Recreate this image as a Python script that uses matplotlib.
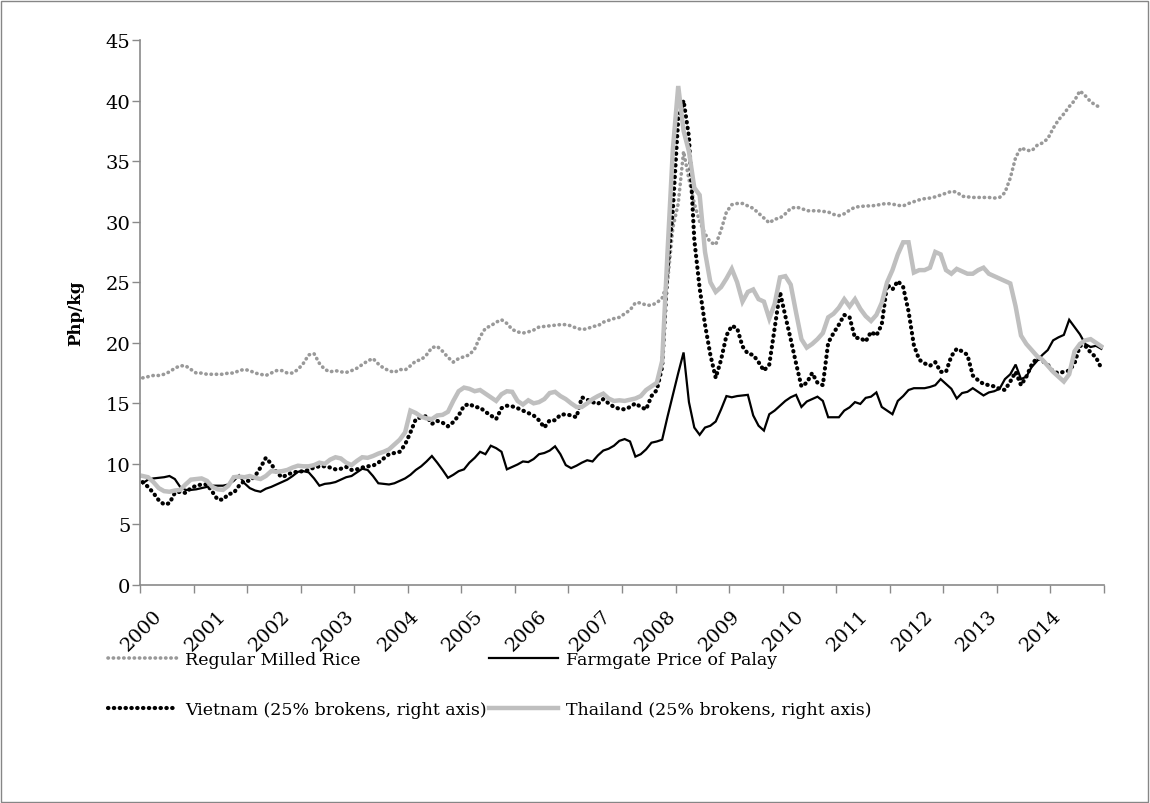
import numpy as np
import matplotlib
matplotlib.use("Agg")
import matplotlib.pyplot as plt
from matplotlib.patches import Rectangle
from matplotlib.transforms import ScaledTranslation

plt.rcParams['font.family'] = ['DejaVu Serif']

years = [str(y) for y in range(2000, 2015)]

# monthly prices, Php/kg, Jan 2000 - Dec 2014 (one row per year)
regular_milled = [
    17.1, 17.2, 17.3, 17.3, 17.4, 17.6, 17.9, 18.1, 18.1, 17.8, 17.5, 17.5,
    17.4, 17.4, 17.4, 17.4, 17.5, 17.5, 17.7, 17.8, 17.7, 17.5, 17.4, 17.3,
    17.5, 17.7, 17.7, 17.5, 17.5, 17.8, 18.3, 19.0, 19.1, 18.3, 17.8, 17.6,
    17.7, 17.6, 17.55, 17.7, 17.9, 18.2, 18.5, 18.7, 18.25, 17.9, 17.7, 17.55,
    17.8, 17.75, 18.1, 18.5, 18.6, 19.0, 19.6, 19.7, 19.3, 18.8, 18.4, 18.7,
    18.85, 19.0, 19.5, 20.5, 21.2, 21.4, 21.7, 21.9, 21.6, 21.1, 20.9, 20.8,
    20.9, 21.05, 21.3, 21.35, 21.4, 21.45, 21.5, 21.5, 21.4, 21.2, 21.1, 21.15,
    21.35, 21.4, 21.7, 21.85, 22.0, 22.1, 22.4, 22.7, 23.3, 23.3, 23.1, 23.1,
    23.3, 23.7, 25.0, 29.5, 31.5, 35.8, 33.5, 31.5, 30.0, 29.0, 28.3, 28.1,
    29.3, 30.8, 31.4, 31.5, 31.5, 31.3, 31.1, 30.7, 30.3, 29.9, 30.2, 30.3,
    30.65, 31.1, 31.2, 31.1, 30.9, 30.9, 30.9, 30.85, 30.8, 30.6, 30.5, 30.65,
    30.95, 31.2, 31.25, 31.3, 31.3, 31.35, 31.45, 31.5, 31.45, 31.35, 31.3, 31.5,
    31.65, 31.8, 31.9, 31.95, 32.05, 32.2, 32.35, 32.5, 32.45, 32.1, 32.05, 32.0,
    32.0, 32.0, 32.0, 31.95, 32.0, 32.4, 33.6, 35.3, 36.1, 35.9, 35.85, 36.3,
    36.5, 36.85, 37.7, 38.4, 38.9, 39.5, 40.0, 40.8, 40.4, 39.9, 39.6, 39.4,
]

farmgate = [
    8.4, 8.7, 8.8, 8.85, 8.9, 9.0, 8.75, 8.1, 7.85, 7.85, 7.9, 8.0,
    8.1, 8.2, 8.2, 8.2, 8.3, 8.6, 9.05, 8.4, 8.0, 7.8, 7.7, 7.95,
    8.1, 8.3, 8.5, 8.7, 9.0, 9.35, 9.4, 9.3, 8.8, 8.2, 8.35, 8.4,
    8.5, 8.7, 8.9, 9.0, 9.3, 9.6, 9.5, 9.0, 8.4, 8.35, 8.3, 8.4,
    8.6, 8.8, 9.1, 9.5, 9.8, 10.2, 10.65, 10.1, 9.5, 8.85, 9.1, 9.4,
    9.55, 10.1, 10.5, 11.0, 10.8, 11.5, 11.3, 11.0, 9.55, 9.75, 9.95, 10.2,
    10.15, 10.4, 10.8, 10.9, 11.1, 11.45, 10.8, 9.9, 9.65, 9.85, 10.1, 10.3,
    10.2, 10.7, 11.1, 11.25, 11.5, 11.9, 12.05, 11.85, 10.6, 10.8, 11.2, 11.75,
    11.85, 12.0, 13.9, 15.7, 17.5, 19.2, 15.1, 13.0, 12.4, 13.0, 13.15, 13.5,
    14.5, 15.6, 15.5, 15.6, 15.65, 15.7, 14.0, 13.15, 12.75, 14.1, 14.4, 14.8,
    15.2, 15.5, 15.7, 14.7, 15.15, 15.35, 15.55, 15.2, 13.85, 13.85, 13.85, 14.4,
    14.67, 15.1, 14.95, 15.45, 15.55, 15.9, 14.7, 14.4, 14.1, 15.2, 15.6, 16.1,
    16.25, 16.25, 16.25, 16.35, 16.5, 17.0, 16.6, 16.2, 15.4, 15.85, 15.95, 16.25,
    15.95, 15.65, 15.9, 16.0, 16.2, 17.0, 17.4, 18.2, 17.0, 17.2, 18.0, 18.5,
    19.0, 19.4, 20.2, 20.45, 20.65, 21.9, 21.3, 20.7, 19.9, 19.65, 19.75, 19.5,
]

vietnam = [
    8.5, 8.1, 7.6, 7.0, 6.65, 6.75, 7.6, 7.7, 7.6, 8.0, 8.2, 8.3,
    8.3, 7.7, 7.05, 7.05, 7.5, 7.6, 8.2, 8.6, 8.6, 9.0, 9.7, 10.5,
    10.0, 9.3, 8.9, 9.1, 9.3, 9.35, 9.4, 9.5, 9.7, 9.8, 9.8, 9.7,
    9.55, 9.6, 9.75, 9.5, 9.55, 9.7, 9.8, 9.85, 10.1, 10.45, 10.8, 10.9,
    11.0, 11.6, 12.6, 13.7, 13.85, 13.95, 13.3, 13.55, 13.4, 13.1, 13.45, 14.0,
    14.8, 14.95, 14.7, 14.65, 14.3, 14.0, 13.7, 14.6, 14.8, 14.75, 14.6, 14.4,
    14.2, 14.0, 13.6, 13.0, 13.6, 13.6, 14.05, 14.1, 14.0, 13.85, 15.5, 15.3,
    15.1, 14.95, 15.35, 15.0, 14.7, 14.55, 14.5, 14.7, 15.0, 14.7, 14.5, 15.6,
    16.1, 18.0, 26.0, 31.0, 38.5, 40.0, 37.0, 28.5, 24.5, 21.5, 19.0, 17.1,
    18.6, 20.6, 21.4, 21.2, 19.7, 19.1, 19.0, 18.4, 17.7, 18.2, 21.2, 24.2,
    22.2, 20.3, 18.3, 16.4, 16.7, 17.5, 16.7, 16.5, 20.0, 20.8, 21.5, 22.3,
    22.1, 20.4, 20.4, 20.1, 20.9, 20.6, 21.5, 24.8, 24.4, 25.1, 24.6, 22.6,
    19.8, 18.6, 18.3, 18.1, 18.4, 17.6, 17.6, 18.9, 19.5, 19.3, 19.0, 17.3,
    16.9, 16.6, 16.5, 16.4, 16.2, 16.1, 16.8, 17.6, 16.5, 17.2, 18.2, 18.75,
    18.5, 18.2, 17.6, 17.5, 17.6, 17.7, 18.3, 19.75, 19.75, 19.2, 18.8, 17.9,
]

thailand = [
    9.0, 8.9, 8.5, 8.0, 7.75, 7.7, 7.8, 7.85, 8.3, 8.7, 8.75, 8.8,
    8.6, 8.1, 7.9, 7.85, 8.2, 8.9, 8.95, 8.9, 9.0, 8.85, 8.75, 9.0,
    9.4, 9.35, 9.4, 9.5, 9.7, 9.85, 9.8, 9.8, 9.9, 10.1, 10.0, 10.35,
    10.55, 10.45, 10.1, 9.9, 10.25, 10.55, 10.5, 10.65, 10.85, 11.0, 11.2, 11.6,
    12.0, 12.6, 14.4, 14.2, 13.9, 13.75, 13.7, 14.0, 14.05, 14.3, 15.2, 16.0,
    16.3, 16.2, 16.0, 16.1, 15.8, 15.5, 15.2, 15.75, 16.0, 15.95, 15.2, 14.9,
    15.25, 15.0, 15.1, 15.35, 15.85, 15.95, 15.6, 15.35, 15.0, 14.7, 14.7, 15.0,
    15.35, 15.6, 15.8, 15.4, 15.2, 15.25, 15.2, 15.3, 15.4, 15.6, 16.1, 16.4,
    16.7, 18.5, 27.5, 36.0, 41.2, 37.5, 35.8, 32.8, 32.2, 27.5, 25.0, 24.2,
    24.6, 25.3, 26.1, 25.0, 23.4, 24.2, 24.4, 23.6, 23.4, 22.0, 23.2, 25.4,
    25.5, 24.8, 22.5, 20.3, 19.6, 19.9, 20.3, 20.8, 22.1, 22.4, 22.9, 23.6,
    23.0, 23.6, 22.8, 22.2, 21.8, 22.3, 23.3, 25.0, 26.0, 27.3, 28.3, 28.3,
    25.8, 26.0, 26.0, 26.2, 27.5, 27.3, 26.0, 25.7, 26.1, 25.9, 25.7, 25.7,
    26.0, 26.2, 25.7, 25.5, 25.3, 25.1, 24.9, 23.0, 20.6, 19.9, 19.4, 18.9,
    18.6, 18.1, 17.6, 17.2, 16.8, 17.4, 19.3, 19.9, 20.2, 20.3, 20.0, 19.7,
]

labels = ['Regular Milled Rice', 'Farmgate Price of Palay',
          'Vietnam (25% brokens, right axis)', 'Thailand (25% brokens, right axis)']

W, H = 1150, 804
fig = plt.figure(figsize=(W / 100, H / 100), dpi=100)
ax = fig.add_axes([140 / W, 1 - 586 / H, 964 / W, 545 / H])

x = np.arange(len(regular_milled)) + 0.5
axis_grey = '#8a8a8a'
fs = 12.5
tick_fs = 14

l_rmr, = ax.plot(x, regular_milled, color='#999999', lw=2.6,
                 linestyle=(0, (0.1, 1.35)), dash_capstyle='round')
l_farm, = ax.plot(x, farmgate, color='black', lw=1.6, solid_joinstyle='miter')
l_vn, = ax.plot(x, vietnam, color='black', lw=3.0,
                linestyle=(0, (0.1, 1.3)), dash_capstyle='round')
l_th, = ax.plot(x, thailand, color='#bfbfbf', lw=3.2, solid_joinstyle='miter')

ax.set_xlim(0, 180)
ax.set_ylim(0, 45)
ax.set_yticks(np.arange(0, 46, 5))

# tick marks every 10 months, year labels drawn by hand at each January
ax.set_xticks(np.arange(0, 181, 10))
ax.set_xticklabels([])
ax.tick_params(axis='x', length=6, width=1, color=axis_grey)
ax.tick_params(axis='y', length=6, width=1, color=axis_grey, pad=1, labelsize=tick_fs)

lab_trans = ax.get_xaxis_transform() + ScaledTranslation(0.16, -0.27, fig.dpi_scale_trans)
for i, yr in enumerate(years):
    ax.text(i * 12 + 0.5, 0, yr, transform=lab_trans, rotation=45, fontsize=tick_fs,
            ha='right', va='center', rotation_mode='anchor')

for side in ['top', 'right']:
    ax.spines[side].set_visible(False)
for side in ['left', 'bottom']:
    ax.spines[side].set_color(axis_grey)
    ax.spines[side].set_linewidth(1.2)

ax.set_ylabel('Php/kg', fontsize=12, fontweight='bold')
ax.yaxis.set_label_coords(-0.058, 0.5)

fig.legend([l_rmr, l_vn, l_farm, l_th],
           [labels[0], labels[2], labels[1], labels[3]],
           ncol=2, loc='upper left', bbox_to_anchor=(108 / W, 1 - 652 / H),
           frameon=False, fontsize=fs, handlelength=4.0, handletextpad=0.45,
           columnspacing=0.1, labelspacing=1.9, borderpad=0, borderaxespad=0)

fig.add_artist(Rectangle((1 / W, 1 / H), 1 - 3 / W, 1 - 3 / H, transform=fig.transFigure,
                         fill=False, edgecolor='#868686', lw=1))

fig.savefig('out.png', dpi=100)
